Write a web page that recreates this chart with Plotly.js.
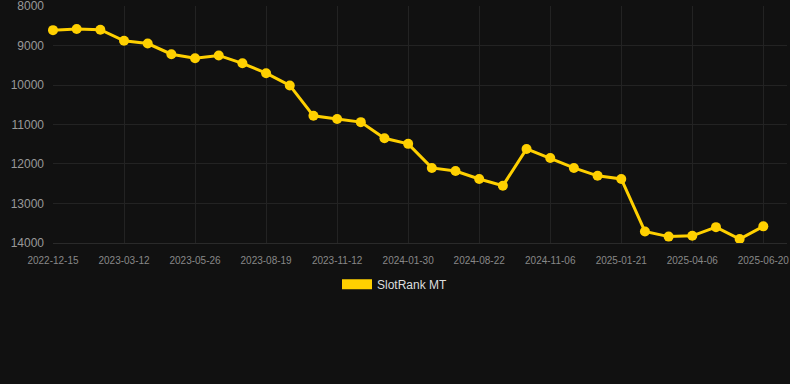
<!DOCTYPE html>
<html>
<head>
<meta charset="utf-8">
<script src="https://cdn.plot.ly/plotly-3.0.1.min.js"></script>
<style>
  html, body { margin: 0; padding: 0; background: #111111; }
  #chart { width: 790px; height: 384px; }
</style>
</head>
<body>
<div id="chart"></div>
<script>
const dates = [
  "2022-12-15","2023-01-12","2023-02-10","2023-03-12","2023-04-05","2023-05-01",
  "2023-05-26","2023-06-20","2023-07-25","2023-08-19","2023-09-15","2023-10-14",
  "2023-11-12","2023-12-10","2024-01-05","2024-01-30","2024-03-20","2024-06-10",
  "2024-08-22","2024-09-20","2024-10-12","2024-11-06","2024-12-01","2024-12-27",
  "2025-01-21","2025-02-15","2025-03-12","2025-04-06","2025-04-30","2025-05-26",
  "2025-06-20"
];
const ranks = [
  8610, 8580, 8600, 8880, 8950, 9220,
  9320, 9250, 9450, 9700, 10010, 10780,
  10860, 10940, 11350, 11490, 12100, 12180,
  12380, 12550, 11620, 11850, 12100, 12300,
  12380, 13710, 13840, 13820, 13600, 13900,
  13580
];
const yTicks = [8000, 9000, 10000, 11000, 12000, 13000, 14000];
const tickLabels = dates.filter((d, i) => i % 3 === 0);
const seriesName = "SlotRank MT";
const gold = "#FFD000";

const traces = [
  {
    x: dates, y: ranks, type: "scatter", mode: "lines+markers",
    line: { color: gold, width: 3 },
    marker: { color: gold, size: 10 },
    cliponaxis: false,
    showlegend: false, hoverinfo: "x+y"
  },
  {
    x: [null], y: [null], type: "scatter", mode: "lines",
    line: { color: gold, width: 12 },
    name: seriesName, showlegend: true
  }
];

const layout = {
  width: 790, height: 384,
  paper_bgcolor: "#111111", plot_bgcolor: "#111111",
  margin: { l: 53, r: 3, t: 6, b: 141 },
  font: { family: "Liberation Sans, Arial, sans-serif", color: "#999999" },
  xaxis: {
    type: "category",
    range: [0, 31],
    tickmode: "array", tickvals: tickLabels, ticktext: tickLabels,
    tickangle: 0,
    tickfont: { size: 10, color: "#888888" },
    ticklabelstandoff: 8,
    gridcolor: "#232323", gridwidth: 1,
    showline: true, linecolor: "#2a2a2a", linewidth: 1,
    zeroline: false, ticks: ""
  },
  yaxis: {
    range: [14002, 7998],
    tickmode: "array", tickvals: yTicks, ticktext: yTicks.map(String),
    tickfont: { size: 12, color: "#999999" },
    ticklabelstandoff: 8,
    ticklabeloverflow: "allow",
    gridcolor: "#232323", gridwidth: 1,
    zeroline: false, showline: false, ticks: ""
  },
  showlegend: true,
  legend: {
    orientation: "h",
    xref: "container", yref: "container",
    x: 0.5, xanchor: "center",
    y: 0.26, yanchor: "middle",
    font: { size: 12, color: "#dddddd" },
    bgcolor: "rgba(0,0,0,0)"
  }
};

Plotly.newPlot("chart", traces, layout, { displayModeBar: false, staticPlot: true });
</script>
</body>
</html>
